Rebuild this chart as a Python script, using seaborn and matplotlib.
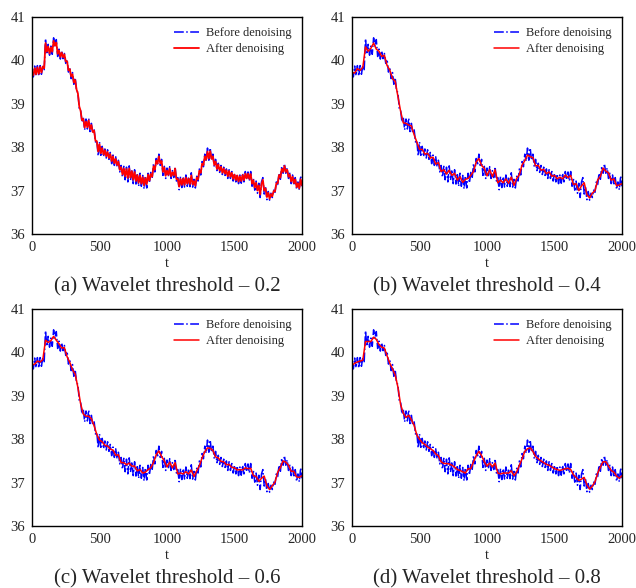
import numpy as np
import matplotlib
matplotlib.use("Agg")
import matplotlib.pyplot as plt
import seaborn as sns
from matplotlib.ticker import MultipleLocator

# sample positions
t_fine = np.arange(0, 2001, 10)
t_coarse = np.arange(0, 2001, 20)

# raw signal (before denoising), read every 10 steps
before = [
    39.75, 39.62, 39.87, 39.65, 39.88, 39.64, 39.88, 39.68, 39.88, 39.76,
    40.50, 40.14, 40.37, 40.12, 40.33, 40.14, 40.52, 40.32, 40.48, 40.09,
    40.26, 40.03, 40.22, 40.04, 40.16, 39.93, 40.02, 39.73, 39.83, 39.58,
    39.72, 39.45, 39.60, 39.30, 39.26, 38.90, 38.86, 38.58, 38.68, 38.40,
    38.65, 38.42, 38.67, 38.36, 38.55, 38.32, 38.42, 38.12, 38.16, 37.80,
    38.12, 37.78, 38.02, 37.78, 37.96, 37.75, 37.94, 37.72, 37.88, 37.62,
    37.82, 37.58, 37.78, 37.55, 37.70, 37.43, 37.58, 37.31, 37.56, 37.25,
    37.54, 37.20, 37.57, 37.24, 37.48, 37.16, 37.48, 37.15, 37.40, 37.10,
    37.40, 37.10, 37.35, 37.04, 37.34, 37.06, 37.40, 37.18, 37.42, 37.28,
    37.62, 37.43, 37.74, 37.58, 37.84, 37.58, 37.72, 37.35, 37.56, 37.28,
    37.52, 37.32, 37.55, 37.28, 37.46, 37.30, 37.55, 37.22, 37.30, 37.02,
    37.32, 37.07, 37.32, 37.08, 37.36, 37.10, 37.32, 37.09, 37.41, 37.08,
    37.26, 37.06, 37.33, 37.22, 37.50, 37.36, 37.67, 37.55, 37.84, 37.68,
    37.98, 37.70, 37.98, 37.70, 37.84, 37.55, 37.72, 37.46, 37.63, 37.42,
    37.58, 37.37, 37.54, 37.35, 37.50, 37.28, 37.48, 37.28, 37.44, 37.22,
    37.40, 37.20, 37.38, 37.16, 37.36, 37.17, 37.40, 37.20, 37.44, 37.25,
    37.43, 37.22, 37.44, 37.10, 37.28, 37.01, 37.22, 36.94, 37.17, 36.84,
    37.20, 37.30, 36.92, 37.08, 36.79, 36.98, 36.78, 36.94, 36.84, 37.01,
    36.96, 37.20, 37.14, 37.40, 37.26, 37.56, 37.40, 37.62, 37.40, 37.52,
    37.28, 37.40, 37.16, 37.36, 37.12, 37.30, 37.03, 37.20, 37.02, 37.34,
    37.10,
]

# denoised signal, threshold 0.2 (every 10 steps)
after_02 = [
    39.73, 39.66, 39.82, 39.68, 39.84, 39.69, 39.85, 39.72, 39.86, 39.82,
    40.40, 40.20, 40.32, 40.16, 40.30, 40.20, 40.45, 40.34, 40.41, 40.15,
    40.23, 40.08, 40.18, 40.07, 40.14, 39.98, 39.98, 39.77, 39.80, 39.63,
    39.68, 39.49, 39.55, 39.33, 39.24, 38.94, 38.84, 38.62, 38.65, 38.45,
    38.59, 38.46, 38.62, 38.42, 38.51, 38.35, 38.38, 38.15, 38.14, 37.90,
    38.07, 37.86, 37.98, 37.83, 37.93, 37.79, 37.89, 37.75, 37.84, 37.68,
    37.79, 37.63, 37.73, 37.59, 37.67, 37.48, 37.54, 37.37, 37.51, 37.33,
    37.50, 37.29, 37.51, 37.30, 37.45, 37.25, 37.43, 37.22, 37.36, 37.18,
    37.35, 37.16, 37.31, 37.12, 37.29, 37.15, 37.37, 37.23, 37.38, 37.32,
    37.56, 37.48, 37.69, 37.62, 37.79, 37.63, 37.68, 37.43, 37.53, 37.34,
    37.46, 37.36, 37.51, 37.33, 37.42, 37.35, 37.51, 37.26, 37.27, 37.09,
    37.27, 37.13, 37.28, 37.13, 37.30, 37.16, 37.28, 37.15, 37.35, 37.14,
    37.22, 37.11, 37.30, 37.26, 37.46, 37.41, 37.62, 37.59, 37.79, 37.71,
    37.90, 37.74, 37.91, 37.73, 37.79, 37.59, 37.67, 37.50, 37.60, 37.46,
    37.55, 37.41, 37.51, 37.39, 37.47, 37.33, 37.45, 37.32, 37.41, 37.27,
    37.37, 37.24, 37.35, 37.21, 37.33, 37.22, 37.36, 37.24, 37.39, 37.28,
    37.39, 37.27, 37.38, 37.16, 37.24, 37.07, 37.18, 37.00, 37.12, 36.91,
    37.15, 37.25, 37.00, 37.05, 36.85, 36.95, 36.81, 36.92, 36.87, 36.99,
    36.98, 37.17, 37.17, 37.36, 37.30, 37.50, 37.43, 37.57, 37.43, 37.48,
    37.32, 37.37, 37.21, 37.32, 37.17, 37.26, 37.08, 37.17, 37.05, 37.26,
    37.12,
]

# denoised signal, threshold 0.4 (every 20 steps)
after_04 = [
    39.72, 39.71, 39.81, 39.77, 39.84, 40.31, 40.21, 40.28, 40.40, 40.26,
    40.21, 40.09, 40.12, 39.88, 39.78, 39.58, 39.52, 39.17, 38.83, 38.56,
    38.55, 38.51, 38.49, 38.29, 38.12, 37.95, 37.95, 37.84, 37.86, 37.75,
    37.77, 37.61, 37.65, 37.44, 37.48, 37.38, 37.47, 37.35, 37.40, 37.24,
    37.32, 37.19, 37.26, 37.28, 37.35, 37.44, 37.66, 37.74, 37.58, 37.51,
    37.34, 37.48, 37.32, 37.48, 37.18, 37.24, 37.18, 37.27, 37.17, 37.31,
    37.12, 37.28, 37.37, 37.59, 37.69, 37.82, 37.78, 37.76, 37.57, 37.58,
    37.47, 37.49, 37.39, 37.43, 37.33, 37.35, 37.27, 37.31, 37.27, 37.36,
    37.30, 37.35, 37.14, 37.16, 37.00, 37.11, 37.18, 36.91, 36.83, 36.94,
    37.00, 37.25, 37.33, 37.52, 37.45, 37.41, 37.24, 37.27, 37.11, 37.13,
    37.16,
]

# denoised signal, threshold 0.6 (every 20 steps)
after_06 = [
    39.71, 39.73, 39.80, 39.78, 39.83, 40.28, 40.23, 40.27, 40.37, 40.28,
    40.20, 40.10, 40.11, 39.90, 39.77, 39.60, 39.50, 39.19, 38.82, 38.58,
    38.53, 38.53, 38.47, 38.31, 38.11, 37.98, 37.94, 37.86, 37.84, 37.77,
    37.75, 37.63, 37.64, 37.46, 37.46, 37.41, 37.45, 37.38, 37.38, 37.27,
    37.30, 37.22, 37.24, 37.30, 37.34, 37.46, 37.64, 37.73, 37.60, 37.50,
    37.36, 37.47, 37.34, 37.46, 37.20, 37.22, 37.20, 37.25, 37.20, 37.29,
    37.14, 37.27, 37.39, 37.57, 37.71, 37.80, 37.79, 37.74, 37.59, 37.57,
    37.49, 37.48, 37.41, 37.42, 37.35, 37.34, 37.29, 37.30, 37.29, 37.34,
    37.32, 37.33, 37.16, 37.14, 37.03, 37.10, 37.15, 36.93, 36.84, 36.93,
    37.01, 37.24, 37.35, 37.50, 37.47, 37.40, 37.26, 37.26, 37.13, 37.12,
    37.16,
]

# denoised signal, threshold 0.8 (every 20 steps)
after_08 = [
    39.70, 39.75, 39.78, 39.80, 39.82, 40.25, 40.25, 40.25, 40.35, 40.30,
    40.18, 40.12, 40.10, 39.92, 39.75, 39.62, 39.48, 39.20, 38.80, 38.60,
    38.50, 38.55, 38.45, 38.32, 38.10, 38.00, 37.92, 37.88, 37.82, 37.78,
    37.74, 37.66, 37.62, 37.48, 37.44, 37.44, 37.43, 37.40, 37.36, 37.30,
    37.28, 37.25, 37.22, 37.32, 37.32, 37.48, 37.62, 37.72, 37.62, 37.48,
    37.38, 37.45, 37.36, 37.45, 37.22, 37.20, 37.22, 37.22, 37.22, 37.27,
    37.16, 37.25, 37.40, 37.55, 37.72, 37.78, 37.80, 37.72, 37.60, 37.55,
    37.50, 37.46, 37.42, 37.40, 37.36, 37.32, 37.30, 37.28, 37.30, 37.32,
    37.33, 37.30, 37.18, 37.12, 37.05, 37.08, 37.12, 36.95, 36.85, 36.92,
    37.02, 37.22, 37.36, 37.48, 37.48, 37.38, 37.28, 37.24, 37.15, 37.10,
    37.16,
]

captions = [
    "(a) Wavelet threshold \u2013 0.2",
    "(b) Wavelet threshold \u2013 0.4",
    "(c) Wavelet threshold \u2013 0.6",
    "(d) Wavelet threshold \u2013 0.8",
]
denoised = [
    (t_fine, after_02),
    (t_coarse, after_04),
    (t_coarse, after_06),
    (t_coarse, after_08),
]

sns.set_style("white")
plt.rcParams["font.family"] = ["Liberation Serif", "DejaVu Serif"]

fig = plt.figure(figsize=(6.36, 5.88), dpi=100)
W, H = 636, 588
boxes = [(32, 17), (352, 17), (32, 309), (352, 309)]  # left, top in px

for i, (left, top) in enumerate(boxes):
    ax = fig.add_axes([left / W, 1 - (top + 217) / H, 270 / W, 217 / H])
    sns.lineplot(x=t_fine, y=before, ax=ax, color="blue", linestyle="-.",
                 linewidth=1.1, label="Before denoising", estimator=None)
    tx, ty = denoised[i]
    sns.lineplot(x=tx, y=ty, ax=ax, color="red", linestyle="-",
                 linewidth=1.3 if i == 0 else 1.1, label="After denoising",
                 estimator=None)

    ax.set_xlim(0, 2000)
    ax.set_ylim(36, 41)
    ax.xaxis.set_major_locator(MultipleLocator(500))
    ax.xaxis.set_minor_locator(MultipleLocator(100))
    ax.yaxis.set_major_locator(MultipleLocator(1))
    ax.yaxis.set_minor_locator(MultipleLocator(0.2))
    ax.tick_params(which="both", direction="in", top=False, right=False,
                   labelsize=10.5, pad=5)
    ax.tick_params(which="major", length=3.5, width=0.8)
    ax.tick_params(which="minor", length=2, width=0.6)
    for sp in ax.spines.values():
        sp.set_linewidth(1.0)
        sp.set_color("black")
    ax.set_xlabel("t", fontsize=10.5, labelpad=2)
    ax.set_ylabel("")

    ax.legend(loc="upper right", frameon=False, fontsize=9,
              handlelength=2.0, handletextpad=0.6, borderaxespad=0.4,
              labelspacing=0.35)

    ax.text(0.5, -0.2, captions[i], transform=ax.transAxes, ha="center",
            va="top", fontsize=15)

fig.savefig("out.png", dpi=100)
